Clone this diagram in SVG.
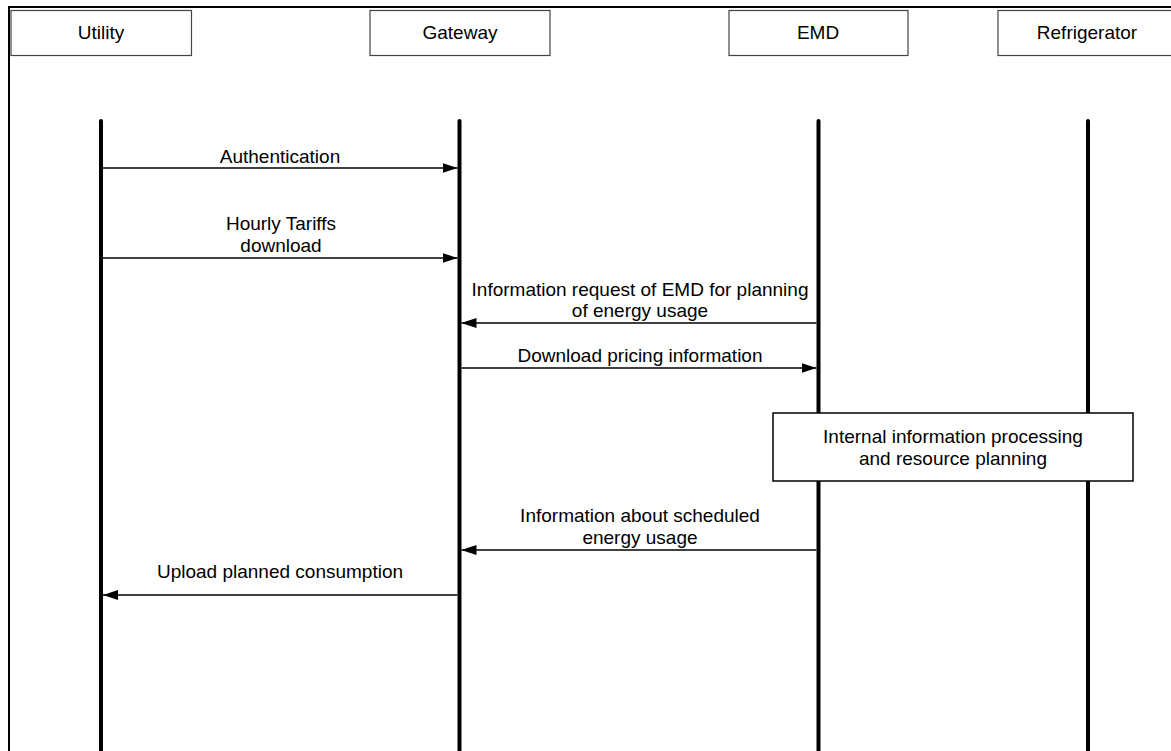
<svg xmlns="http://www.w3.org/2000/svg" width="1171" height="751" viewBox="0 0 1171 751">
  <style>
    .frame { fill: none; stroke: #000; stroke-width: 2; }
    .box { fill: #fff; stroke: #444; stroke-width: 1.2; }
    .pbox { fill: #fff; stroke: #000; stroke-width: 1.5; }
    .life { stroke: #000; stroke-width: 4; stroke-linecap: round; }
    .msg { stroke: #000; stroke-width: 1.6; fill: none; marker-end: url(#arrow); }
    text { font-family: "Liberation Sans", Arial, sans-serif; font-size: 19px; fill: #000; text-anchor: middle; }
  </style>
  <defs>
    <marker id="arrow" markerWidth="15" markerHeight="10" refX="15" refY="5" orient="auto" markerUnits="userSpaceOnUse">
      <path d="M0,0 L15,5 L0,10 Z" fill="#000"/>
    </marker>
  </defs>

  <rect width="1171" height="751" fill="#fff"/>

  <!-- outer frame: top and left edges -->
  <path class="frame" d="M9,751 V7 H1171"/>

  <!-- participants with lifelines -->
  <g id="utility">
    <rect class="box" x="11" y="10.5" width="180.5" height="45"/>
    <text x="101" y="39">Utility</text>
    <line class="life" x1="101" y1="121" x2="101" y2="760"/>
  </g>
  <g id="gateway">
    <rect class="box" x="370" y="10.5" width="180" height="45"/>
    <text x="460" y="39">Gateway</text>
    <line class="life" x1="459.5" y1="121" x2="459.5" y2="760"/>
  </g>
  <g id="emd">
    <rect class="box" x="729" y="10.5" width="179" height="45"/>
    <text x="818" y="39">EMD</text>
    <line class="life" x1="818.5" y1="121" x2="818.5" y2="760"/>
  </g>
  <g id="refrigerator">
    <rect class="box" x="998" y="10.5" width="185" height="45"/>
    <text x="1087" y="39">Refrigerator</text>
    <line class="life" x1="1088" y1="121" x2="1088" y2="760"/>
  </g>

  <!-- activity on EMD -->
  <g id="processing">
    <rect class="pbox" x="773" y="413" width="360" height="68"/>
    <text x="953" y="443">Internal information processing</text>
    <text x="953" y="465">and resource planning</text>
  </g>

  <!-- messages -->
  <g id="connectors">
    <line class="msg" x1="103" y1="168" x2="457.5" y2="168"/>
    <line class="msg" x1="103" y1="258" x2="457.5" y2="258"/>
    <line class="msg" x1="816.5" y1="323" x2="461.5" y2="323"/>
    <line class="msg" x1="461.5" y1="368" x2="816.5" y2="368"/>
    <line class="msg" x1="816.5" y1="550" x2="461.5" y2="550"/>
    <line class="msg" x1="457.5" y1="595" x2="103" y2="595"/>
  </g>

  <g id="labels">
    <text x="280" y="163">Authentication</text>
    <text x="281" y="230">Hourly Tariffs</text>
    <text x="281" y="252">download</text>
    <text x="640" y="296">Information request of EMD for planning</text>
    <text x="640" y="317">of energy usage</text>
    <text x="640" y="362">Download pricing information</text>
    <text x="640" y="522">Information about scheduled</text>
    <text x="640" y="544">energy usage</text>
    <text x="280" y="578">Upload planned consumption</text>
  </g>
</svg>
